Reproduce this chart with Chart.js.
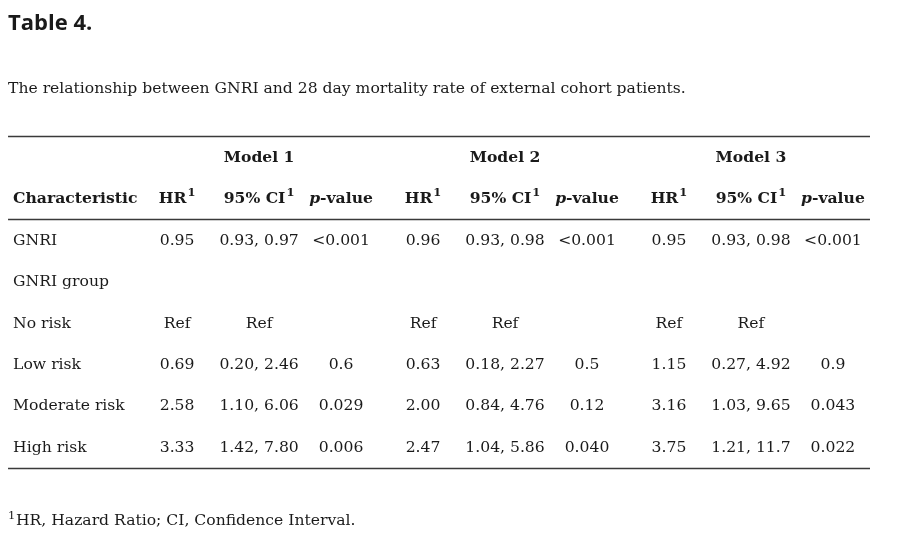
<!DOCTYPE html>
<html>
<head>
<meta charset="utf-8">
<script src="https://cdn.jsdelivr.net/npm/chart.js@4.4.1/dist/chart.umd.min.js"></script>
<style>
  html, body { margin: 0; padding: 0; background: #fff; }
  #wrap { width: 910px; height: 540px; }
</style>
</head>
<body>
<div id="wrap"><canvas id="table-chart" width="910" height="540"></canvas></div>
<script>
// Table content
const titleText = 'Table 4.';
const captionText = 'The relationship between GNRI and 28 day mortality rate of external cohort patients.';
const footnoteText = 'HR, Hazard Ratio; CI, Confidence Interval.';

const modelLabels = ['Model 1', 'Model 2', 'Model 3'];
const stubHeader = 'Characteristic';
const rowLabels = ['GNRI', 'GNRI group', 'No risk', 'Low risk', 'Moderate risk', 'High risk'];

const hr1 = ['0.95', '', 'Ref', '0.69', '2.58', '3.33'];
const ci1 = ['0.93, 0.97', '', 'Ref', '0.20, 2.46', '1.10, 6.06', '1.42, 7.80'];
const p1  = ['<0.001', '', '', '0.6', '0.029', '0.006'];

const hr2 = ['0.96', '', 'Ref', '0.63', '2.00', '2.47'];
const ci2 = ['0.93, 0.98', '', 'Ref', '0.18, 2.27', '0.84, 4.76', '1.04, 5.86'];
const p2  = ['<0.001', '', '', '0.5', '0.12', '0.040'];

const hr3 = ['0.95', '', 'Ref', '1.15', '3.16', '3.75'];
const ci3 = ['0.93, 0.98', '', 'Ref', '0.27, 4.92', '1.03, 9.65', '1.21, 11.7'];
const p3  = ['<0.001', '', '', '0.9', '0.043', '0.022'];

const modelColumns = [[hr1, ci1, p1], [hr2, ci2, p2], [hr3, ci3, p3]];

// fonts / colours
const serif = '"DejaVu Serif", "Liberation Serif", serif';
const fs = 15.6;
const textColor = '#1a1a1a';
const ruleColor = '#3a3a3a';

// build one scatter dataset per table column, each point is a cell
function cellData(col, values, align) {
    let pts = [];
    values.forEach(function(v, i) {
        if (v !== '') pts.push({ x: col, y: i + 2, t: v, kind: 'body', align: align });
    });
    return pts;
}

let datasets = [];

// stub column
let stub = rowLabels.map(function(r, i) {
    return { x: -2, y: i + 2, t: r, kind: 'body', align: 'left' };
});
stub.push({ x: -2, y: 1, t: stubHeader, kind: 'bold', align: 'left' });
datasets.push({ label: 'stub', data: stub });

modelColumns.forEach(function(cols, m) {
    let base = m * 3;
    let hr = cellData(base, cols[0], 'center');
    hr.push({ x: base, y: 1, t: 'HR', kind: 'sup', align: 'center' });
    let ci = cellData(base + 1, cols[1], 'center');
    ci.push({ x: base + 1, y: 1, t: '95% CI', kind: 'sup', align: 'center' });
    ci.push({ x: base + 1, y: 0, t: modelLabels[m], kind: 'bold', align: 'center' });
    let p = cellData(base + 2, cols[2], 'center');
    p.push({ x: base + 2, y: 1, t: '-value', kind: 'pval', align: 'center' });
    datasets.push({ label: modelLabels[m] + ' HR', data: hr });
    datasets.push({ label: modelLabels[m] + ' CI', data: ci });
    datasets.push({ label: modelLabels[m] + ' p', data: p });
});

datasets.forEach(function(d) {
    d.pointRadius = 0;
    d.pointHoverRadius = 0;
    d.showLine = false;
});

// draws the cell texts at the point positions and the rules
const tablePlugin = {
    id: 'tableText',
    afterDatasetsDraw: function(chart) {
        const ctx = chart.ctx;
        const xs = chart.scales.x, ys = chart.scales.y;
        ctx.save();
        ctx.fillStyle = textColor;
        ctx.textBaseline = 'middle';

        // rules
        ctx.strokeStyle = ruleColor;
        ctx.lineWidth = 1.3;
        [-0.53, 1.48, 7.49].forEach(function(r) {
            const y = Math.round(ys.getPixelForValue(r)) + 0.5;
            ctx.beginPath();
            ctx.moveTo(xs.getPixelForValue(-2.062), y);
            ctx.lineTo(xs.getPixelForValue(8.452), y);
            ctx.stroke();
        });

        const bodyFont = fs + 'px ' + serif;
        const boldFont = 'bold ' + fs + 'px ' + serif;
        const italFont = 'italic bold ' + fs + 'px ' + serif;
        const supFont = 'bold 11.5px ' + serif;

        chart.data.datasets.forEach(function(ds, di) {
            const meta = chart.getDatasetMeta(di);
            meta.data.forEach(function(el, i) {
                const cell = ds.data[i];
                const x = el.x, y = el.y;
                if (cell.kind === 'body' || cell.kind === 'bold') {
                    ctx.font = cell.kind === 'bold' ? boldFont : bodyFont;
                    ctx.textAlign = cell.align;
                    ctx.fillText(cell.t, x, y);
                } else if (cell.kind === 'sup') {
                    ctx.font = boldFont;
                    const w1 = ctx.measureText(cell.t).width;
                    ctx.font = supFont;
                    const w2 = ctx.measureText('1').width + 1;
                    const start = x - (w1 + w2) / 2;
                    ctx.textAlign = 'left';
                    ctx.font = boldFont;
                    ctx.fillText(cell.t, start, y);
                    ctx.font = supFont;
                    ctx.fillText('1', start + w1 + 1, y - 6);
                } else if (cell.kind === 'pval') {
                    ctx.font = italFont;
                    const w1 = ctx.measureText('p').width;
                    ctx.font = boldFont;
                    const w2 = ctx.measureText(cell.t).width;
                    const start = x - (w1 + w2) / 2;
                    ctx.textAlign = 'left';
                    ctx.font = italFont;
                    ctx.fillText('p', start, y);
                    ctx.font = boldFont;
                    ctx.fillText(cell.t, start + w1, y);
                }
            });
        });

        // title, caption, footnote
        ctx.textBaseline = 'alphabetic';
        ctx.textAlign = 'left';
        ctx.font = 'bold 22px "Open Sans", "Noto Sans", sans-serif';
        ctx.fillText(titleText, 8, 30);
        ctx.font = fs + 'px ' + serif;
        ctx.fillText(captionText, 8, 93);
        ctx.font = '11.5px ' + serif;
        ctx.fillText('1', 8, 519);
        ctx.font = fs + 'px ' + serif;
        ctx.fillText(footnoteText, 16, 525);
        ctx.restore();
    }
};

new Chart(document.getElementById('table-chart').getContext('2d'), {
    type: 'scatter',
    data: { datasets: datasets },
    options: {
        responsive: false,
        animation: false,
        devicePixelRatio: 1,
        layout: { padding: 0 },
        plugins: {
            legend: { display: false },
            tooltip: { enabled: false }
        },
        scales: {
            x: { type: 'linear', display: false, min: -2.16, max: 8.94 },
            y: { type: 'linear', display: false, reverse: true, min: -3.816, max: 9.227 }
        }
    },
    plugins: [tablePlugin]
});
</script>
</body>
</html>
